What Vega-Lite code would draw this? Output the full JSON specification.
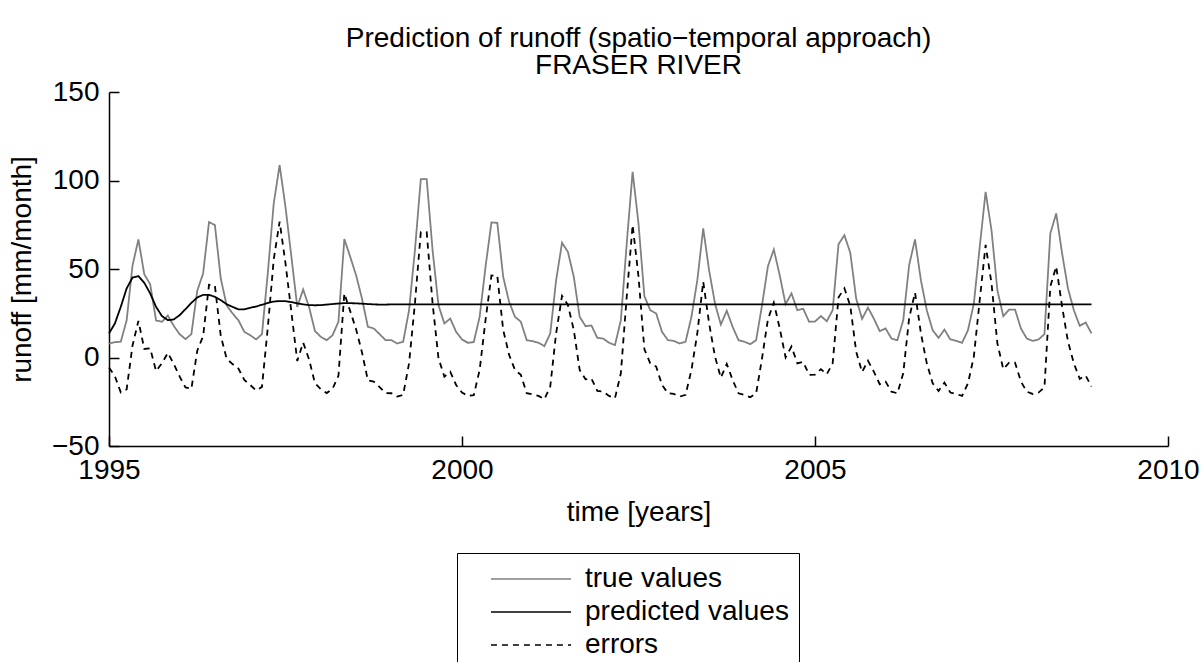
{
  "$schema": "https://vega.github.io/schema/vega-lite/v6.json",
  "width": 1059,
  "height": 354,
  "autosize": {"type": "none"},
  "padding": {"left": 109, "top": 92, "right": 35, "bottom": 216},
  "background": "white",
  "config": {
    "font": "Liberation Sans",
    "view": {"stroke": null},
    "legend": {
      "title": null, "orient": "none", "legendX": 348, "legendY": 461,
      "symbolType": "M-2.67,0L2.67,0", "symbolSize": 900, "symbolStrokeWidth": 1.5,
      "labelFontSize": 28, "labelFont": "Liberation Sans", "labelColor": "black",
      "labelOffset": 38, "rowPadding": 3, "padding": 10, "symbolOffset": 48,
      "strokeColor": "black", "fillColor": "white", "labelLimit": 400
    }
  },
  "title": {
    "text": ["Prediction of runoff (spatio−temporal approach)", "FRASER RIVER"],
    "fontSize": 28, "fontWeight": "normal", "color": "black", "font": "Liberation Sans",
    "anchor": "middle", "offset": -2, "lineHeight": 27
  },
  "data": {"values": [
{"t":1995,"true values":7.9,"predicted values":13.6,"errors":-5.7},
{"t":1995.0833,"true values":8.7,"predicted values":19.2,"errors":-10.5},
{"t":1995.1667,"true values":8.9,"predicted values":28.6,"errors":-19.7},
{"t":1995.25,"true values":21.0,"predicted values":39.0,"errors":-18.0},
{"t":1995.3333,"true values":52.0,"predicted values":45.2,"errors":6.8},
{"t":1995.4167,"true values":66.7,"predicted values":46.0,"errors":20.7},
{"t":1995.5,"true values":47.0,"predicted values":42.2,"errors":4.8},
{"t":1995.5833,"true values":41.4,"predicted values":36.2,"errors":5.2},
{"t":1995.6667,"true values":20.9,"predicted values":28.6,"errors":-7.7},
{"t":1995.75,"true values":20.2,"predicted values":23.4,"errors":-3.2},
{"t":1995.8333,"true values":23.7,"predicted values":21.1,"errors":2.6},
{"t":1995.9167,"true values":17.9,"predicted values":21.5,"errors":-3.6},
{"t":1996,"true values":13.2,"predicted values":23.9,"errors":-10.7},
{"t":1996.0833,"true values":10.4,"predicted values":27.3,"errors":-16.9},
{"t":1996.1667,"true values":13.2,"predicted values":30.9,"errors":-17.7},
{"t":1996.25,"true values":37.7,"predicted values":33.9,"errors":3.8},
{"t":1996.3333,"true values":47.5,"predicted values":35.4,"errors":12.1},
{"t":1996.4167,"true values":76.5,"predicted values":35.4,"errors":41.1},
{"t":1996.5,"true values":74.8,"predicted values":34.3,"errors":40.5},
{"t":1996.5833,"true values":44.6,"predicted values":32.4,"errors":12.2},
{"t":1996.6667,"true values":29.4,"predicted values":30.1,"errors":-0.7},
{"t":1996.75,"true values":24.9,"predicted values":28.6,"errors":-3.7},
{"t":1996.8333,"true values":21.0,"predicted values":27.2,"errors":-6.2},
{"t":1996.9167,"true values":14.5,"predicted values":27.2,"errors":-12.7},
{"t":1997,"true values":12.6,"predicted values":28.1,"errors":-15.5},
{"t":1997.0833,"true values":10.2,"predicted values":28.8,"errors":-18.6},
{"t":1997.1667,"true values":13.2,"predicted values":29.8,"errors":-16.6},
{"t":1997.25,"true values":48.0,"predicted values":30.8,"errors":17.2},
{"t":1997.3333,"true values":87.0,"predicted values":31.6,"errors":55.4},
{"t":1997.4167,"true values":108.7,"predicted values":31.9,"errors":76.8},
{"t":1997.5,"true values":85.0,"predicted values":31.8,"errors":53.2},
{"t":1997.5833,"true values":57.0,"predicted values":31.3,"errors":25.7},
{"t":1997.6667,"true values":28.6,"predicted values":30.6,"errors":-2.0},
{"t":1997.75,"true values":38.4,"predicted values":30.0,"errors":8.4},
{"t":1997.8333,"true values":28.6,"predicted values":29.6,"errors":-1.0},
{"t":1997.9167,"true values":15.0,"predicted values":29.5,"errors":-14.5},
{"t":1998,"true values":11.7,"predicted values":29.6,"errors":-17.9},
{"t":1998.0833,"true values":9.8,"predicted values":29.9,"errors":-20.1},
{"t":1998.1667,"true values":12.6,"predicted values":30.2,"errors":-17.6},
{"t":1998.25,"true values":20.2,"predicted values":30.5,"errors":-10.3},
{"t":1998.3333,"true values":66.9,"predicted values":30.7,"errors":36.2},
{"t":1998.4167,"true values":56.9,"predicted values":30.7,"errors":26.2},
{"t":1998.5,"true values":46.5,"predicted values":30.6,"errors":15.9},
{"t":1998.5833,"true values":33.3,"predicted values":30.4,"errors":2.9},
{"t":1998.6667,"true values":17.3,"predicted values":30.2,"errors":-12.9},
{"t":1998.75,"true values":16.4,"predicted values":30.0,"errors":-13.6},
{"t":1998.8333,"true values":13.2,"predicted values":29.9,"errors":-16.7},
{"t":1998.9167,"true values":9.8,"predicted values":29.9,"errors":-20.1},
{"t":1999,"true values":9.8,"predicted values":30,"errors":-20.2},
{"t":1999.0833,"true values":7.9,"predicted values":30,"errors":-22.1},
{"t":1999.1667,"true values":8.9,"predicted values":30,"errors":-21.1},
{"t":1999.25,"true values":26.7,"predicted values":30,"errors":-3.3},
{"t":1999.3333,"true values":60.6,"predicted values":30,"errors":30.6},
{"t":1999.4167,"true values":100.8,"predicted values":30,"errors":70.8},
{"t":1999.5,"true values":100.8,"predicted values":30,"errors":70.8},
{"t":1999.5833,"true values":60.6,"predicted values":30,"errors":30.6},
{"t":1999.6667,"true values":29.6,"predicted values":30,"errors":-0.4},
{"t":1999.75,"true values":19.2,"predicted values":30,"errors":-10.8},
{"t":1999.8333,"true values":22.0,"predicted values":30,"errors":-8.0},
{"t":1999.9167,"true values":14.5,"predicted values":30,"errors":-15.5},
{"t":2000,"true values":10.2,"predicted values":30,"errors":-19.8},
{"t":2000.0833,"true values":8.3,"predicted values":30,"errors":-21.7},
{"t":2000.1667,"true values":8.7,"predicted values":30,"errors":-21.3},
{"t":2000.25,"true values":23.0,"predicted values":30,"errors":-7.0},
{"t":2000.3333,"true values":51.2,"predicted values":30,"errors":21.2},
{"t":2000.4167,"true values":76.3,"predicted values":30,"errors":46.3},
{"t":2000.5,"true values":76.1,"predicted values":30,"errors":46.1},
{"t":2000.5833,"true values":45.6,"predicted values":30,"errors":15.6},
{"t":2000.6667,"true values":31.5,"predicted values":30,"errors":1.5},
{"t":2000.75,"true values":23.0,"predicted values":30,"errors":-7.0},
{"t":2000.8333,"true values":20.2,"predicted values":30,"errors":-9.8},
{"t":2000.9167,"true values":9.8,"predicted values":30,"errors":-20.2},
{"t":2001,"true values":9.2,"predicted values":30,"errors":-20.8},
{"t":2001.0833,"true values":8.3,"predicted values":30,"errors":-21.7},
{"t":2001.1667,"true values":6.4,"predicted values":30,"errors":-23.6},
{"t":2001.25,"true values":13.6,"predicted values":30,"errors":-16.4},
{"t":2001.3333,"true values":43.7,"predicted values":30,"errors":13.7},
{"t":2001.4167,"true values":64.8,"predicted values":30,"errors":34.8},
{"t":2001.5,"true values":59.7,"predicted values":30,"errors":29.7},
{"t":2001.5833,"true values":45.6,"predicted values":30,"errors":15.6},
{"t":2001.6667,"true values":23.0,"predicted values":30,"errors":-7.0},
{"t":2001.75,"true values":17.7,"predicted values":30,"errors":-12.3},
{"t":2001.8333,"true values":18.1,"predicted values":30,"errors":-11.9},
{"t":2001.9167,"true values":11.1,"predicted values":30,"errors":-18.9},
{"t":2002,"true values":10.7,"predicted values":30,"errors":-19.3},
{"t":2002.0833,"true values":8.3,"predicted values":30,"errors":-21.7},
{"t":2002.1667,"true values":7.0,"predicted values":30,"errors":-23.0},
{"t":2002.25,"true values":21.1,"predicted values":30,"errors":-8.9},
{"t":2002.3333,"true values":64.4,"predicted values":30,"errors":34.4},
{"t":2002.4167,"true values":104.9,"predicted values":30,"errors":74.9},
{"t":2002.5,"true values":75.7,"predicted values":30,"errors":45.7},
{"t":2002.5833,"true values":34.7,"predicted values":30,"errors":4.7},
{"t":2002.6667,"true values":26.7,"predicted values":30,"errors":-3.3},
{"t":2002.75,"true values":24.9,"predicted values":30,"errors":-5.1},
{"t":2002.8333,"true values":14.5,"predicted values":30,"errors":-15.5},
{"t":2002.9167,"true values":9.8,"predicted values":30,"errors":-20.2},
{"t":2003,"true values":9.4,"predicted values":30,"errors":-20.6},
{"t":2003.0833,"true values":7.9,"predicted values":30,"errors":-22.1},
{"t":2003.1667,"true values":8.9,"predicted values":30,"errors":-21.1},
{"t":2003.25,"true values":23.0,"predicted values":30,"errors":-7.0},
{"t":2003.3333,"true values":43.7,"predicted values":30,"errors":13.7},
{"t":2003.4167,"true values":72.9,"predicted values":30,"errors":42.9},
{"t":2003.5,"true values":49.3,"predicted values":30,"errors":19.3},
{"t":2003.5833,"true values":30.5,"predicted values":30,"errors":0.5},
{"t":2003.6667,"true values":18.6,"predicted values":30,"errors":-11.4},
{"t":2003.75,"true values":26.4,"predicted values":30,"errors":-3.6},
{"t":2003.8333,"true values":17.3,"predicted values":30,"errors":-12.7},
{"t":2003.9167,"true values":9.8,"predicted values":30,"errors":-20.2},
{"t":2004,"true values":8.9,"predicted values":30,"errors":-21.1},
{"t":2004.0833,"true values":7.5,"predicted values":30,"errors":-22.5},
{"t":2004.1667,"true values":9.8,"predicted values":30,"errors":-20.2},
{"t":2004.25,"true values":29.6,"predicted values":30,"errors":-0.4},
{"t":2004.3333,"true values":51.6,"predicted values":30,"errors":21.6},
{"t":2004.4167,"true values":61.0,"predicted values":30,"errors":31.0},
{"t":2004.5,"true values":46.5,"predicted values":30,"errors":16.5},
{"t":2004.5833,"true values":30.1,"predicted values":30,"errors":0.1},
{"t":2004.6667,"true values":36.2,"predicted values":30,"errors":6.2},
{"t":2004.75,"true values":26.7,"predicted values":30,"errors":-3.3},
{"t":2004.8333,"true values":27.5,"predicted values":30,"errors":-2.5},
{"t":2004.9167,"true values":20.2,"predicted values":30,"errors":-9.8},
{"t":2005,"true values":20.3,"predicted values":30,"errors":-9.7},
{"t":2005.0833,"true values":23.4,"predicted values":30,"errors":-6.6},
{"t":2005.1667,"true values":20.5,"predicted values":30,"errors":-9.5},
{"t":2005.25,"true values":26.7,"predicted values":30,"errors":-3.3},
{"t":2005.3333,"true values":64.0,"predicted values":30,"errors":34.0},
{"t":2005.4167,"true values":69.1,"predicted values":30,"errors":39.1},
{"t":2005.5,"true values":59.1,"predicted values":30,"errors":29.1},
{"t":2005.5833,"true values":33.3,"predicted values":30,"errors":3.3},
{"t":2005.6667,"true values":21.8,"predicted values":30,"errors":-8.2},
{"t":2005.75,"true values":28.2,"predicted values":30,"errors":-1.8},
{"t":2005.8333,"true values":22.0,"predicted values":30,"errors":-8.0},
{"t":2005.9167,"true values":14.9,"predicted values":30,"errors":-15.1},
{"t":2006,"true values":16.4,"predicted values":30,"errors":-13.6},
{"t":2006.0833,"true values":10.7,"predicted values":30,"errors":-19.3},
{"t":2006.1667,"true values":9.8,"predicted values":30,"errors":-20.2},
{"t":2006.25,"true values":21.1,"predicted values":30,"errors":-8.9},
{"t":2006.3333,"true values":52.2,"predicted values":30,"errors":22.2},
{"t":2006.4167,"true values":66.7,"predicted values":30,"errors":36.7},
{"t":2006.5,"true values":43.7,"predicted values":30,"errors":13.7},
{"t":2006.5833,"true values":26.7,"predicted values":30,"errors":-3.3},
{"t":2006.6667,"true values":15.4,"predicted values":30,"errors":-14.6},
{"t":2006.75,"true values":11.1,"predicted values":30,"errors":-18.9},
{"t":2006.8333,"true values":15.8,"predicted values":30,"errors":-14.2},
{"t":2006.9167,"true values":10.2,"predicted values":30,"errors":-19.8},
{"t":2007,"true values":9.4,"predicted values":30,"errors":-20.6},
{"t":2007.0833,"true values":8.3,"predicted values":30,"errors":-21.7},
{"t":2007.1667,"true values":15.4,"predicted values":30,"errors":-14.6},
{"t":2007.25,"true values":30.5,"predicted values":30,"errors":0.5},
{"t":2007.3333,"true values":62.5,"predicted values":30,"errors":32.5},
{"t":2007.4167,"true values":93.6,"predicted values":30,"errors":63.6},
{"t":2007.5,"true values":71.9,"predicted values":30,"errors":41.9},
{"t":2007.5833,"true values":38.0,"predicted values":30,"errors":8.0},
{"t":2007.6667,"true values":23.4,"predicted values":30,"errors":-6.6},
{"t":2007.75,"true values":27.1,"predicted values":30,"errors":-2.9},
{"t":2007.8333,"true values":27.1,"predicted values":30,"errors":-2.9},
{"t":2007.9167,"true values":16.4,"predicted values":30,"errors":-13.6},
{"t":2008,"true values":10.7,"predicted values":30,"errors":-19.3},
{"t":2008.0833,"true values":9.4,"predicted values":30,"errors":-20.6},
{"t":2008.1667,"true values":10.2,"predicted values":30,"errors":-19.8},
{"t":2008.25,"true values":13.2,"predicted values":30,"errors":-16.8},
{"t":2008.3333,"true values":70.1,"predicted values":30,"errors":40.1},
{"t":2008.4167,"true values":81.4,"predicted values":30,"errors":51.4},
{"t":2008.5,"true values":58.8,"predicted values":30,"errors":28.8},
{"t":2008.5833,"true values":39.0,"predicted values":30,"errors":9.0},
{"t":2008.6667,"true values":26.7,"predicted values":30,"errors":-3.3},
{"t":2008.75,"true values":17.9,"predicted values":30,"errors":-12.1},
{"t":2008.8333,"true values":19.8,"predicted values":30,"errors":-10.2},
{"t":2008.9167,"true values":13.6,"predicted values":30,"errors":-16.4}
  ]},
  "transform": [{"fold": ["true values", "predicted values", "errors"], "as": ["series", "value"]}],
  "mark": {"type": "line", "strokeWidth": 1.8},
  "encoding": {
    "x": {
      "field": "t", "type": "quantitative",
      "scale": {"domain": [1995, 2010], "nice": false, "zero": false},
      "axis": {
        "values": [1995, 2000, 2005, 2010], "format": "d", "title": "time [years]",
        "grid": false, "domainColor": "black", "domainWidth": 1.5, "tickColor": "black",
        "tickWidth": 1.5, "tickSize": -10, "labelPadding": 20, "labelFontSize": 28,
        "labelColor": "black", "labelFont": "Liberation Sans", "labelFlush": false,
        "titleFontSize": 28, "titleFontWeight": "normal", "titleColor": "black",
        "titleFont": "Liberation Sans", "titleY": 66, "titleBaseline": "middle"
      }
    },
    "y": {
      "field": "value", "type": "quantitative",
      "scale": {"domain": [-50, 150], "nice": false, "zero": false},
      "axis": {
        "values": [-50, 0, 50, 100, 150], "title": "runoff [mm/month]",
        "grid": false, "domainColor": "black", "domainWidth": 1.5, "tickColor": "black",
        "tickWidth": 1.5, "tickSize": -10, "labelPadding": 20, "labelFontSize": 28,
        "labelColor": "black", "labelFont": "Liberation Sans", "labelFlush": false,
        "titleFontSize": 28, "titleFontWeight": "normal", "titleColor": "black",
        "titleFont": "Liberation Sans", "titleX": -87, "titleY": 177, "titleBaseline": "middle",
        "titleAlign": "center", "titleAngle": -90
      }
    },
    "color": {
      "field": "series", "type": "nominal",
      "scale": {"domain": ["true values", "predicted values", "errors"], "range": ["#808080", "#000000", "#000000"]},
      "legend": {"labelExpr": "datum.label + '\u00a0\u00a0\u00a0'"}
    },
    "strokeDash": {
      "field": "series", "type": "nominal",
      "scale": {"domain": ["true values", "predicted values", "errors"], "range": [[1, 0], [1, 0], [6, 5]]},
      "legend": {"labelExpr": "datum.label + '\u00a0\u00a0\u00a0'"}
    }
  }
}
